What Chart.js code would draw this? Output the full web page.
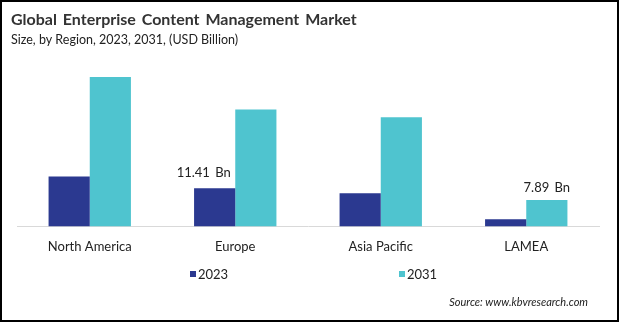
<!DOCTYPE html>
<html>
<head>
<meta charset="utf-8">
<script src="https://cdn.jsdelivr.net/npm/chart.js@4/dist/chart.umd.min.js"></script>
<style>
  html, body { margin: 0; padding: 0; background: #fff; }
  #wrap { width: 619px; height: 322px; position: relative; box-sizing: border-box; border: 2px solid #000; }
  canvas { display: block; }
</style>
</head>
<body>
<div id="wrap"><canvas id="myChart" width="615" height="318"></canvas></div>
<script>
// market size by region, USD billion
const regions = ['North America', 'Europe', 'Asia Pacific', 'LAMEA'];
const years = ['2023', '2031'];
const values2023 = [14.9, 11.41, 9.9, 2.1];
const values2031 = [44.6, 34.9, 32.6, 7.89];
// bars that carry a value tag: [dataset index, region index]
const taggedBars = [[0, 1], [1, 3]];

const titleText = 'Global Enterprise Content Management Market';
const subtitleText = 'Size, by Region, 2023, 2031, (USD Billion)';
const sourceText = 'Source: www.kbvresearch.com';

const navy = '#2B3990';
const teal = '#4FC4CF';
const fontFam = 'Lato, "Open Sans", sans-serif';

// heading, legend, source and value tags drawn straight on the canvas
const decor = {
  id: 'decor',
  afterDraw(chart) {
    const ctx = chart.ctx;
    ctx.save();
    ctx.textBaseline = 'middle';
    ctx.fillStyle = '#333';
    ctx.font = 'bold 16px ' + fontFam;
    ctx.textAlign = 'left';
    ctx.wordSpacing = '2px';
    ctx.fillText(titleText, 9, 18);
    ctx.wordSpacing = '0px';
    ctx.fillStyle = '#222';
    ctx.font = '12.5px ' + fontFam;
    ctx.fillText(subtitleText, 9, 38);

    // legend
    const legendX = [188, 397];
    chart.data.datasets.forEach((ds, i) => {
      ctx.fillStyle = ds.backgroundColor;
      ctx.fillRect(legendX[i], 269, 6, 6);
      ctx.fillStyle = '#222';
      ctx.font = '13px ' + fontFam;
      ctx.fillText(ds.label, legendX[i] + 8, 272.5);
    });

    // source line
    ctx.font = 'italic 11px ' + fontFam;
    ctx.textAlign = 'right';
    ctx.fillStyle = '#222';
    ctx.fillText(sourceText, 586, 300.5);

    // value tags
    ctx.font = '13px ' + fontFam;
    ctx.textAlign = 'center';
    ctx.wordSpacing = '2px';
    const shifts = { '0-1': [-11, -15], '1-3': [0, -12] };
    taggedBars.forEach(([d, r]) => {
      const bar = chart.getDatasetMeta(d).data[r];
      const v = chart.data.datasets[d].data[r];
      const s = shifts[d + '-' + r];
      ctx.fillText(v.toFixed(2) + ' Bn', bar.x + s[0], bar.y + s[1]);
    });
    ctx.restore();
  }
};

const config = {
  type: 'bar',
  data: {
    labels: regions,
    datasets: [
      { label: years[0], data: values2023, backgroundColor: navy },
      { label: years[1], data: values2031, backgroundColor: teal }
    ]
  },
  options: {
    responsive: false,
    animation: false,
    layout: { padding: { left: 15, right: 18, top: 57, bottom: 52 } },
    datasets: { bar: { categoryPercentage: 0.566, barPercentage: 1.0 } },
    scales: {
      x: {
        grid: { display: false, drawTicks: false },
        border: { display: true, color: '#d9d9d9', width: 1 },
        ticks: { color: '#222', font: { family: fontFam, size: 13 }, padding: 13 }
      },
      y: {
        display: false,
        min: 0,
        max: 50
      }
    },
    plugins: {
      legend: { display: false },
      title: { display: false },
      tooltip: { enabled: false }
    }
  },
  plugins: [decor]
};

const chartInstance = new Chart(document.getElementById('myChart'), config);
</script>
</body>
</html>
